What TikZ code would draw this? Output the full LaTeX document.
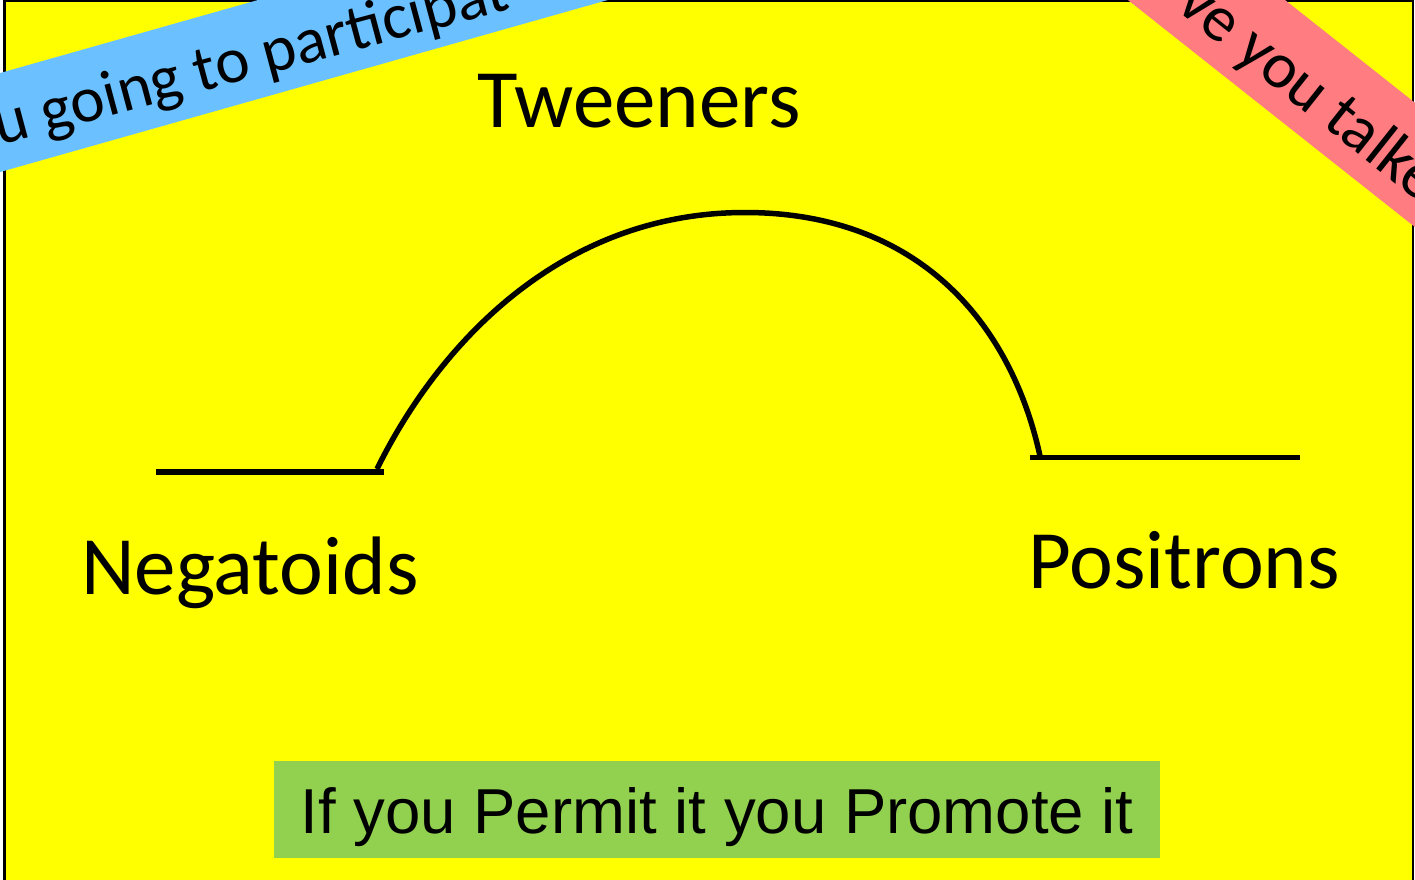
\documentclass[tikz,border=0pt]{standalone}
\usepackage{fontspec}
\setmainfont{Carlito}
\newfontfamily\arialfont{Liberation Sans}
\definecolor{bgyellow}{RGB}{255,255,0}
\definecolor{ribbonblue}{RGB}{107,193,255}
\definecolor{ribbonpink}{RGB}{255,124,128}
\definecolor{boxgreen}{RGB}{146,208,80}
\begin{document}
\begin{tikzpicture}[x=1pt,y=-1pt,
  biglabel/.style={inner sep=0pt, anchor=base, font=\fontsize{83}{83}\selectfont},
  ribbontext/.style={inner sep=0pt, anchor=base west, font=\fontsize{65}{65}\selectfont},
  curve/.style={line width=5.5pt},
  frame/.style={line width=2.6pt}]
\useasboundingbox (0,0) rectangle (1415,879);
\clip (0,0) rectangle (1415,879);
% background panel
\fill[bgyellow] (4.5,1) rectangle (1412.8,900);
\draw[frame] (4.5,1) rectangle (1412.8,900);
% blue ribbon
\fill[ribbonblue] (-20,78.7) -- (-20,177.7) -- (700,-26.1) -- (700,-125.1) -- cycle;
\node[ribbontext, rotate=15] (bluetext) at (-1,146) {u going to participat};
% pink ribbon
\fill[ribbonpink] (1000,-101.2) -- (1500,294.3) -- (1600,249.2) -- (1150,-106.8) -- cycle;
\node[ribbontext, rotate=-38.4] (pinktext) at (1174,8) {ve you talke};
% labels
\node[biglabel] (tween) at (639,127) {Tweeners};
\node[biglabel] (neg) at (250,594) {Negatoids};
\node[biglabel] (pos) at (1184,588) {Positrons};
% slogan box
\node[fill=boxgreen, inner sep=0pt, minimum width=886pt, text height=72pt, text depth=24.7pt,
      font=\arialfont\fontsize{63.5}{63.5}\selectfont] (slogan) at (717,809.35) {If you Permit it you Promote it};
% lines and arc
\coordinate (negL) at (156,472);
\coordinate (negR) at (384,472);
\coordinate (posL) at (1030,457.3);
\coordinate (posR) at (1300,457.3);
\coordinate (arcS) at (377,469);
\coordinate (arcTop) at (745,212.5);
\coordinate (arcE) at (1040,456);
\draw[curve] (negL) -- (negR);
\draw[curve] (posL) -- (posR);
\draw[curve] (arcS) .. controls (438,345) and (560,212.5) .. (arcTop)
                    .. controls (915,212.5) and (1010,319) .. (arcE);
\end{tikzpicture}
\end{document}
